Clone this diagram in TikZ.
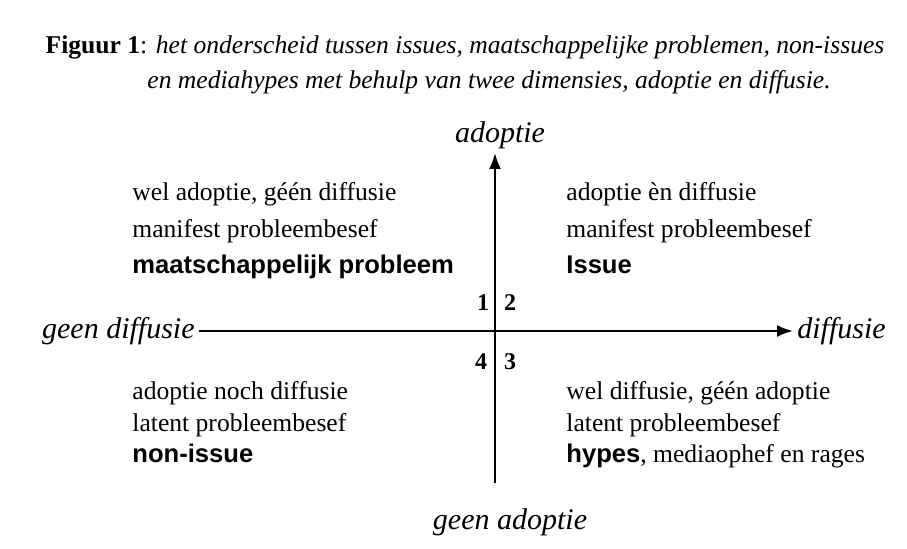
\documentclass[tikz,border=0pt]{standalone}
\usepackage{fontspec}
\setmainfont{Liberation Serif}
\newfontfamily\arialfont{Liberation Sans}
\usetikzlibrary{arrows.meta}

\tikzstyle{axis}=[line width=1.1pt,-{Latex[length=8pt,width=6pt]}]
\tikzstyle{plain}=[font=\fontsize{12.8}{14}\selectfont,anchor=base west,inner sep=0pt]
\tikzstyle{kind}=[font=\arialfont\bfseries\fontsize{12.8}{14}\selectfont,anchor=base west,inner sep=0pt]
\tikzstyle{axlabel}=[font=\itshape\fontsize{15}{17}\selectfont,inner sep=2pt]
\tikzstyle{quad}=[font=\bfseries\fontsize{12}{14}\selectfont,inner sep=0pt]
\def\lx{132}
\def\rx{566}

\begin{document}
\begin{tikzpicture}[x=0.5pt,y=-0.5pt]
\useasboundingbox (0,0) rectangle (907,549);
% title
\node[font=\fontsize{12.8}{14}\selectfont] (title1) at (465,47)
    {\textbf{Figuur 1}: \textit{het onderscheid tussen issues, maatschappelijke problemen, non-issues}};
\node[font=\itshape\fontsize{12.8}{14}\selectfont] (title2) at (489,82)
    {en mediahypes met behulp van twee dimensies, adoptie en diffusie.};

% axes
\node[axlabel] (ado) at (500,135) {adoptie};
\node[axlabel] (gado) at (510,522) {geen adoptie};
\node[axlabel,anchor=east] (gdif) at (199,331) {geen diffusie};
\node[axlabel,anchor=west] (dif) at (793,331) {diffusie};
\coordinate (v_top) at (495,153);
\coordinate (v_bot) at (495,483);
\draw[axis] (v_bot) -- (v_top);
\draw[axis] (gdif) -- (dif);

% quadrant numbers
\node[quad] (q1) at (483,303) {1};
\node[quad] (q2) at (510,303) {2};
\node[quad] (q3) at (510,362) {3};
\node[quad] (q4) at (481,362) {4};

% 1st quadrant
\node[plain] (tl_1) at (\lx,201) {wel adoptie, géén diffusie};
\node[plain] (tl_2) at (\lx,238) {manifest probleembesef};
\node[kind]  (tl_3) at (\lx,274) {maatschappelijk probleem};
% 2nd quadrant
\node[plain] (tr_1) at (\rx,201) {adoptie èn diffusie};
\node[plain] (tr_2) at (\rx,238) {manifest probleembesef};
\node[kind]  (tr_3) at (\rx,274) {Issue};
% 3rd quadrant
\node[plain] (br_1) at (\rx,400) {wel diffusie, géén adoptie};
\node[plain] (br_2) at (\rx,432) {latent probleembesef};
\node[plain] (br_3) at (\rx,463) {{\arialfont\bfseries hypes}, mediaophef en rages};
% 4th quadrant
\node[plain] (bl_1) at (\lx,400) {adoptie noch diffusie};
\node[plain] (bl_2) at (\lx,432) {latent probleembesef};
\node[kind]  (bl_3) at (\lx,463) {non-issue};
\end{tikzpicture}
\end{document}
